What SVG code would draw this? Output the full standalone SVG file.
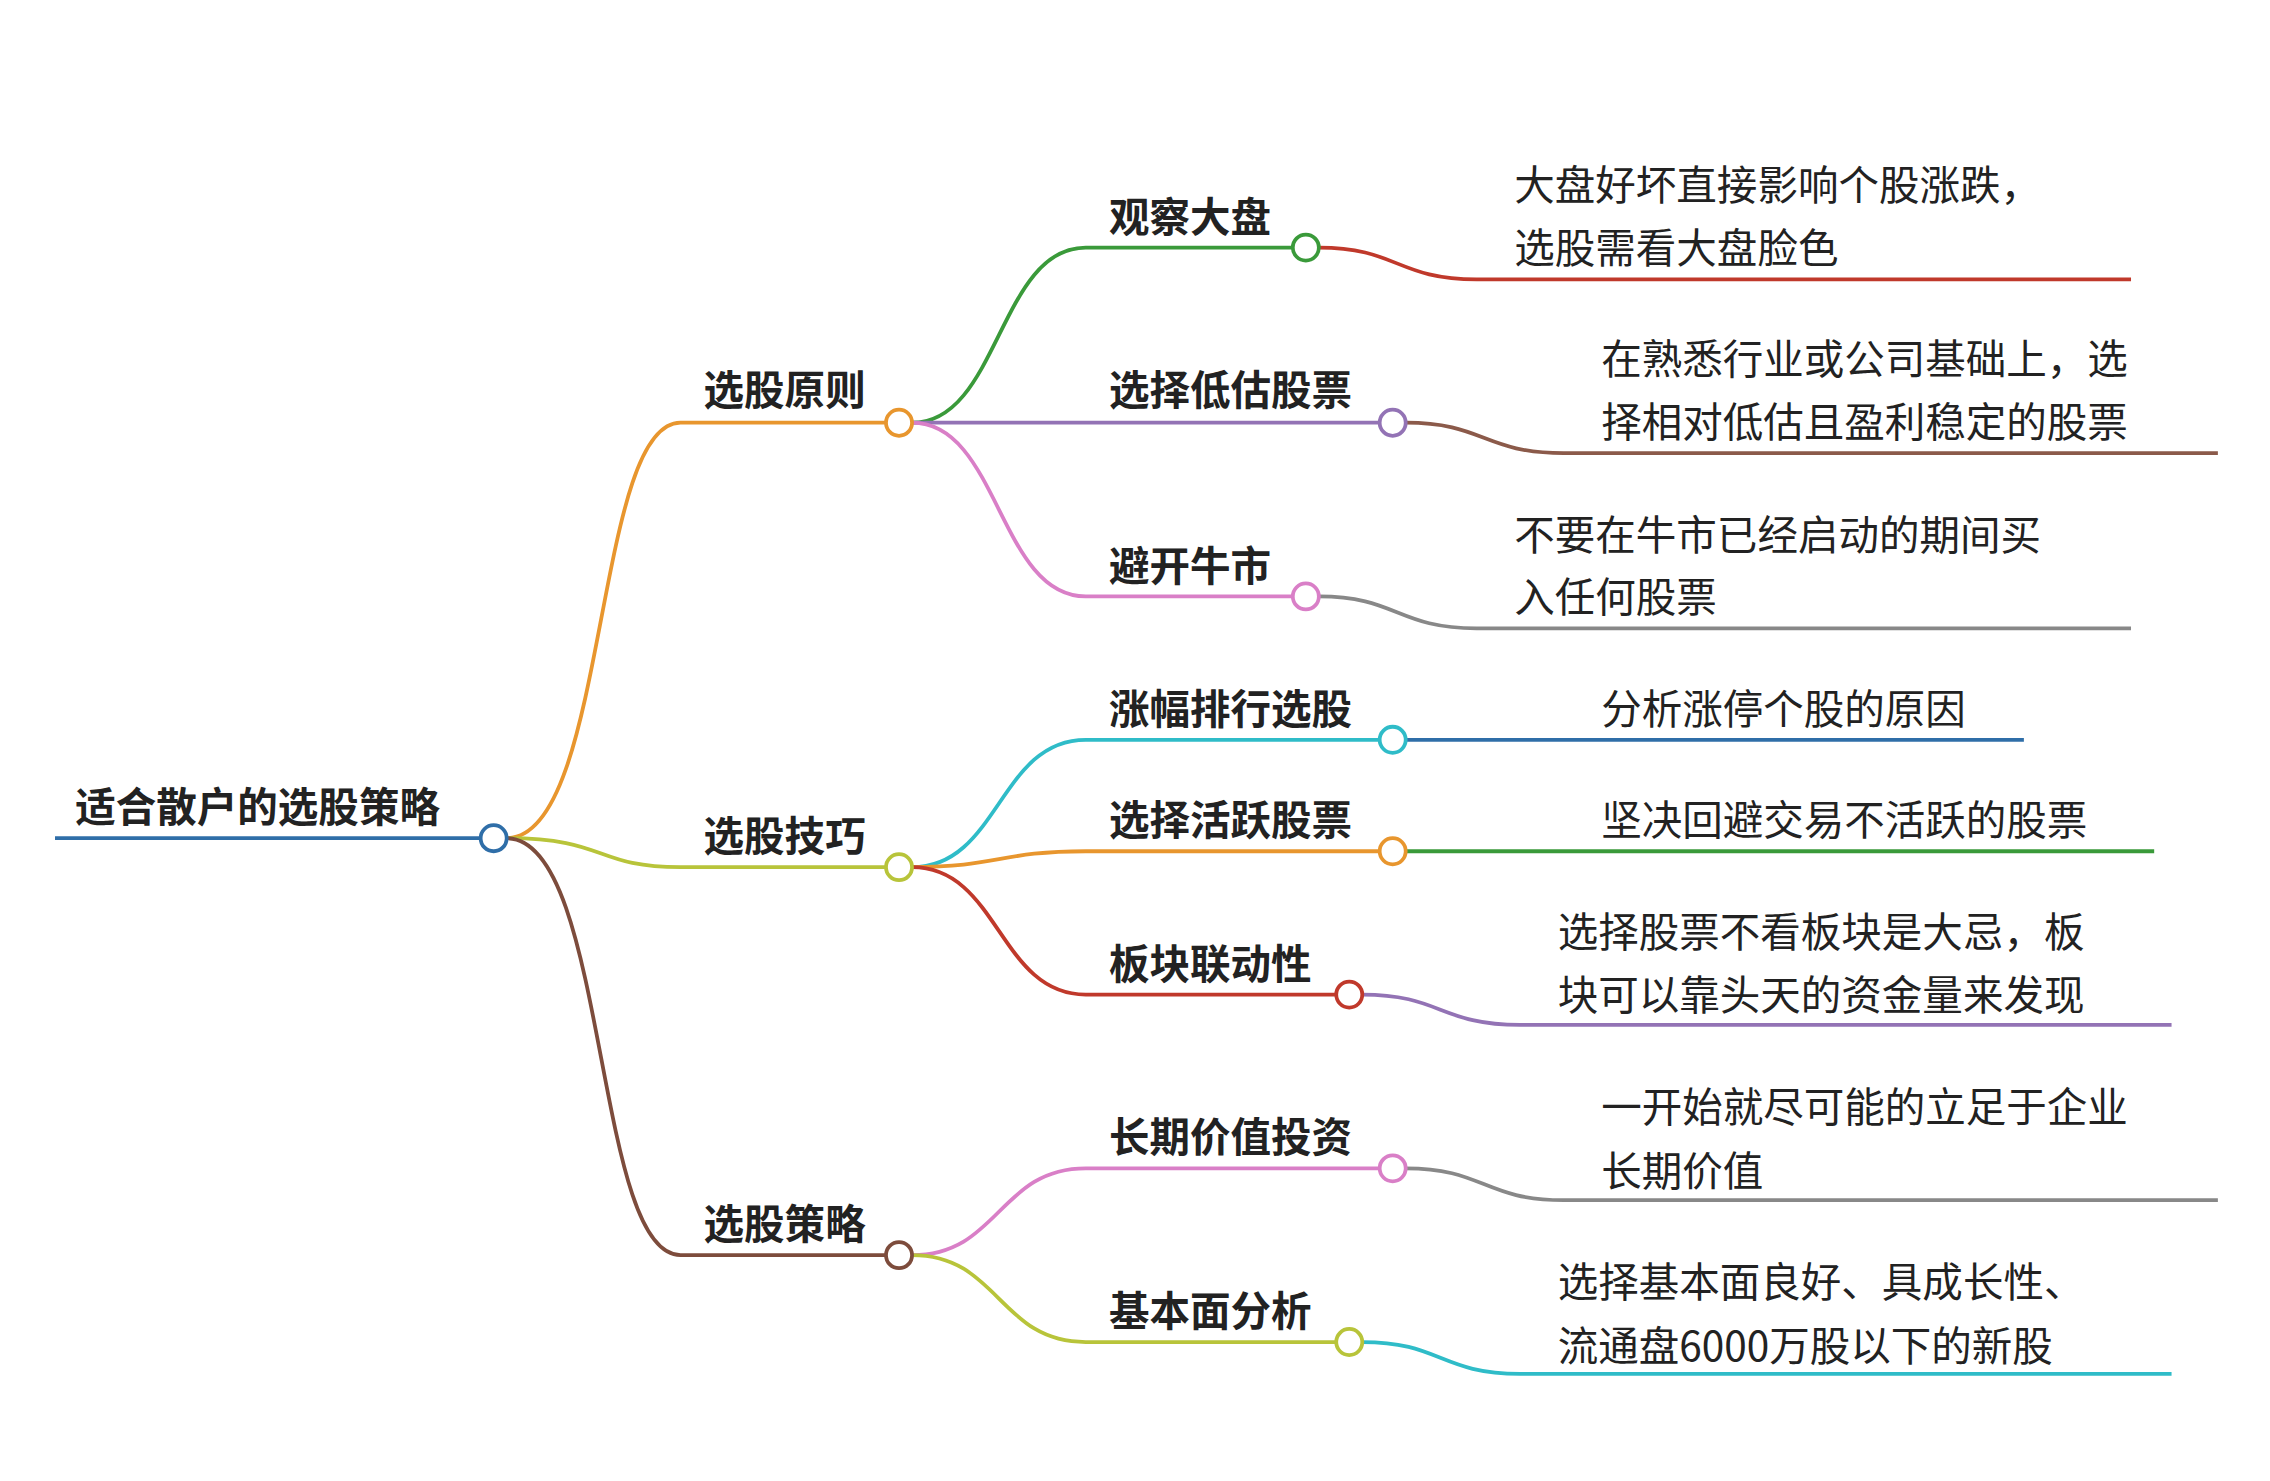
<svg xmlns="http://www.w3.org/2000/svg" width="2270" height="1481" viewBox="0 0 2270 1481">
<style>
.l{fill:none;stroke-width:2.6}
.c{fill:#fff;stroke-width:2.6}
.b{font-family:"Noto Sans CJK SC",sans-serif;font-weight:bold;font-size:28px;fill:#222}
.t{font-family:"Noto Sans CJK SC",sans-serif;font-size:28px;fill:#222}
</style>
<rect width="2270" height="1481" fill="#fff"/>
<g transform="scale(1.4477)">
<g id="connectors">
<path class="l" stroke="#2f6ea8" d="M38,579H332"/>
<path class="l" stroke="#e8962e" d="M350,579C420,579 410,292 470,292H612"/>
<path class="l" stroke="#b8c43a" d="M350,579C420,579 410,599 470,599H612"/>
<path class="l" stroke="#7d4c3c" d="M350,579C420,579 410,867 470,867H612"/>
<path class="l" stroke="#3a9a3a" d="M630,292C690,292 690,171 750,171H893"/>
<path class="l" stroke="#9373b5" d="M630,292H953"/>
<path class="l" stroke="#d97fc7" d="M630,292C690,292 690,412 750,412H893"/>
<path class="l" stroke="#c0392b" d="M911,171C965,171 965,193 1020,193H1472"/>
<path class="l" stroke="#8b5a4a" d="M971,292C1025,292 1025,313 1080,313H1532"/>
<path class="l" stroke="#888" d="M911,412C965,412 965,434 1020,434H1472"/>
<path class="l" stroke="#2fbcc8" d="M630,599C690,599 690,511 750,511H953"/>
<path class="l" stroke="#e8962e" d="M630,599C690,599 690,588 750,588H953"/>
<path class="l" stroke="#c0392b" d="M630,599C690,599 690,687 750,687H923"/>
<path class="l" stroke="#2f6ea8" d="M971,511H1398"/>
<path class="l" stroke="#3a9a3a" d="M971,588H1488"/>
<path class="l" stroke="#9373b5" d="M941,687C995,687 995,708 1050,708H1500"/>
<path class="l" stroke="#d97fc7" d="M630,867C690,867 690,807 750,807H953"/>
<path class="l" stroke="#b8c43a" d="M630,867C690,867 690,927 750,927H923"/>
<path class="l" stroke="#888" d="M971,807C1025,807 1025,829 1080,829H1532"/>
<path class="l" stroke="#2fbcc8" d="M941,927C995,927 995,949 1050,949H1500"/>
</g>
<g id="root"><text class="b" x="52" y="568">适合散户的选股策略</text><circle class="c" stroke="#2f6ea8" cx="341" cy="579" r="9"/></g>
<g id="n1"><text class="b" x="486" y="280">选股原则</text><circle class="c" stroke="#e8962e" cx="621" cy="292" r="9"/></g>
<g id="n2"><text class="b" x="486" y="588">选股技巧</text><circle class="c" stroke="#b8c43a" cx="621" cy="599" r="9"/></g>
<g id="n3"><text class="b" x="486" y="856">选股策略</text><circle class="c" stroke="#7d4c3c" cx="621" cy="867" r="9"/></g>
<g id="n11"><text class="b" x="766" y="160">观察大盘</text><circle class="c" stroke="#3a9a3a" cx="902" cy="171" r="9"/></g>
<g id="n12"><text class="b" x="766" y="280">选择低估股票</text><circle class="c" stroke="#9373b5" cx="962" cy="292" r="9"/></g>
<g id="n13"><text class="b" x="766" y="401">避开牛市</text><circle class="c" stroke="#d97fc7" cx="902" cy="412" r="9"/></g>
<g id="n21"><text class="b" x="766" y="500">涨幅排行选股</text><circle class="c" stroke="#2fbcc8" cx="962" cy="511" r="9"/></g>
<g id="n22"><text class="b" x="766" y="577">选择活跃股票</text><circle class="c" stroke="#e8962e" cx="962" cy="588" r="9"/></g>
<g id="n23"><text class="b" x="766" y="676">板块联动性</text><circle class="c" stroke="#c0392b" cx="932" cy="687" r="9"/></g>
<g id="n31"><text class="b" x="766" y="796">长期价值投资</text><circle class="c" stroke="#d97fc7" cx="962" cy="807" r="9"/></g>
<g id="n32"><text class="b" x="766" y="916">基本面分析</text><circle class="c" stroke="#b8c43a" cx="932" cy="927" r="9"/></g>
<g id="l111"><text class="t" x="1046" y="138">大盘好坏直接影响个股涨跌，</text><text class="t" x="1046" y="182">选股需看大盘脸色</text></g>
<g id="l121"><text class="t" x="1106" y="258">在熟悉行业或公司基础上，选</text><text class="t" x="1106" y="302">择相对低估且盈利稳定的股票</text></g>
<g id="l131"><text class="t" x="1046" y="380">不要在牛市已经启动的期间买</text><text class="t" x="1046" y="423">入任何股票</text></g>
<g id="l211"><text class="t" x="1106" y="500">分析涨停个股的原因</text></g>
<g id="l221"><text class="t" x="1106" y="577">坚决回避交易不活跃的股票</text></g>
<g id="l231"><text class="t" x="1076" y="654">选择股票不看板块是大忌，板</text><text class="t" x="1076" y="698">块可以靠头天的资金量来发现</text></g>
<g id="l311"><text class="t" x="1106" y="775">一开始就尽可能的立足于企业</text><text class="t" x="1106" y="819">长期价值</text></g>
<g id="l321"><text class="t" x="1076" y="896">选择基本面良好、具成长性、</text><text class="t" x="1076" y="940">流通盘6000万股以下的新股</text></g>
</g>
</svg>
